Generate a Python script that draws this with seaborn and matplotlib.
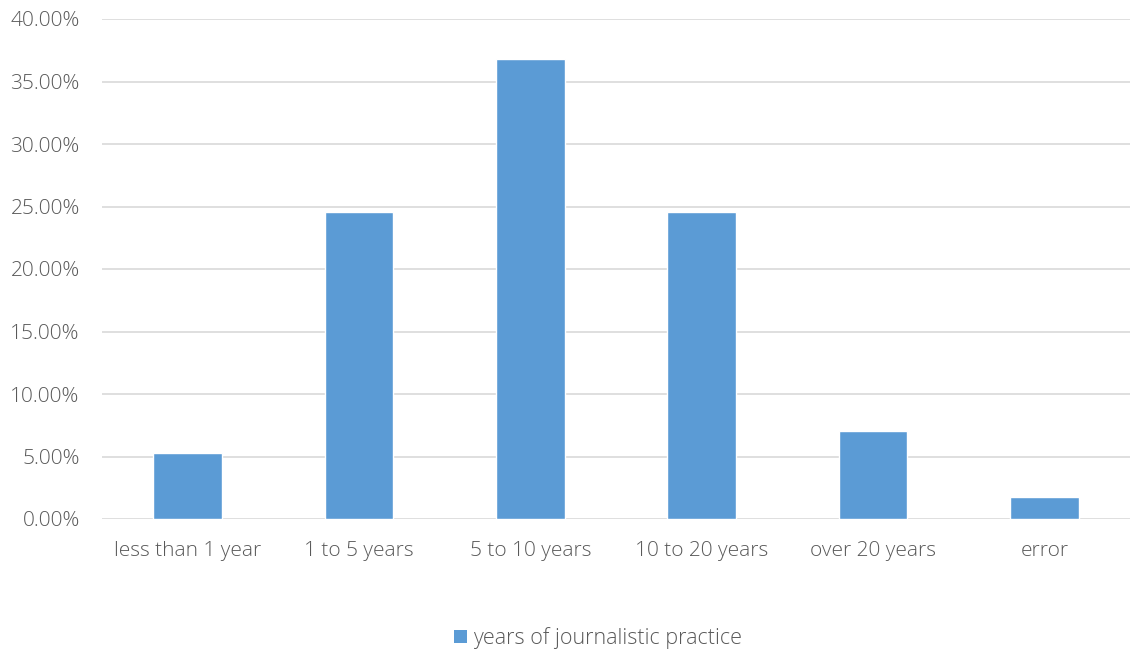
import matplotlib
matplotlib.use("Agg")
import matplotlib.pyplot as plt
import matplotlib.ticker as mticker
from matplotlib.patches import Patch
import seaborn as sns
import pandas as pd

categories = ["less than 1 year", "1 to 5 years", "5 to 10 years",
              "10 to 20 years", "over 20 years", "error"]
shares = [0.0526, 0.2456, 0.3684, 0.2456, 0.0702, 0.0175]
series_name = "years of journalistic practice"
y_ticks = [0.0, 0.05, 0.10, 0.15, 0.20, 0.25, 0.30, 0.35, 0.40]

df = pd.DataFrame({"category": categories, "share": shares})

sns.set_theme(style="white")
plt.rcParams["font.family"] = ["Open Sans", "DejaVu Sans"]

BAR = "#5B9BD5"
TEXT = "#595959"
GRID = "#D9D9D9"

fig = plt.figure(figsize=(11.3, 6.53), dpi=100)
ax = fig.add_axes([102 / 1130, (653 - 519) / 653, 1 - 102 / 1130, (519 - 19) / 653])

sns.barplot(data=df, x="category", y="share", color=BAR, width=0.4,
            saturation=1, ax=ax, zorder=3)

ax.set_xlim(-0.5, 5.5)
ax.set_ylim(0, 0.40)
ax.set_yticks(y_ticks)
ax.yaxis.set_major_formatter(mticker.FuncFormatter(lambda v, _: f"{v * 100:.2f}%"))
ax.grid(axis="y", color=GRID, linewidth=1.2, zorder=0)
ax.set_axisbelow(True)
for s in ax.spines.values():
    s.set_visible(False)
ax.set_xlabel("")
ax.set_ylabel("")
ax.tick_params(axis="both", length=0, labelsize=15, labelcolor=TEXT)
ax.tick_params(axis="y", pad=16)
ax.tick_params(axis="x", pad=16)
for lab in ax.get_xticklabels() + ax.get_yticklabels():
    lab.set_fontweight("light")

handle = Patch(facecolor=BAR, edgecolor="none", label=series_name)
leg = fig.legend(handles=[handle], loc="center", bbox_to_anchor=(598 / 1130, 1 - 638 / 653),
                 frameon=False, fontsize=15.5, handlelength=0.6, handleheight=0.6,
                 handletextpad=0.3)
for t in leg.get_texts():
    t.set_color(TEXT)
    t.set_fontweight("light")

fig.savefig("out.png", dpi=100)
